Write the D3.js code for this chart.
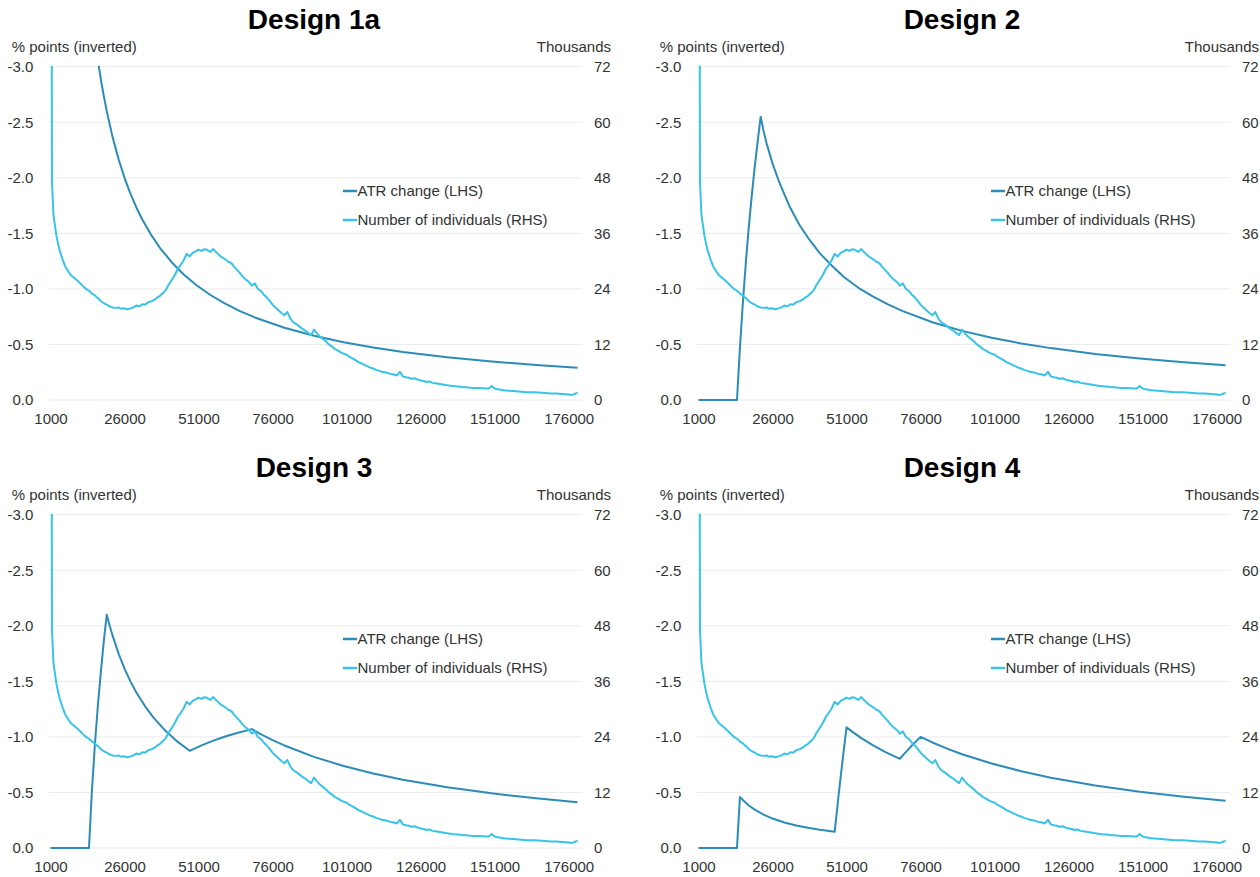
<!DOCTYPE html>
<html><head><meta charset="utf-8">
<script src="https://cdn.jsdelivr.net/npm/d3@7"></script>
<style>
body{margin:0;background:#fff}
text{font-family:"Liberation Sans",Arial,Helvetica,sans-serif}
</style>
</head><body>
<svg id="chart" width="1260" height="877"></svg>
<script>
// ---------- DATA ----------
const titles = ["Design 1a", "Design 2", "Design 3", "Design 4"];
const incomeTicks = [1000, 26000, 51000, 76000, 101000, 126000, 151000, 176000];
const lhsTicks = [0, -0.5, -1.0, -1.5, -2.0, -2.5, -3.0];
const rhsTicks = [0, 12, 24, 36, 48, 60, 72];
const legendLabels = ["ATR change (LHS)", "Number of individuals (RHS)"];

// Number of individuals (thousands) by income
const individuals = [
  [1000,250],[1500,47],[2000,40],[3000,35.5],[4000,32.5],[5000,30.5],[6000,28.8],[7000,27.8],[8000,26.9],[9000,26.4],
  [10000,25.8],[11000,25.2],[12000,24.6],[13000,24.0],[14000,23.6],[15000,23.0],[16000,22.6],[17000,22.0],[18000,21.4],[19000,20.9],
  [20000,20.6],[21000,20.2],[22000,20.0],[23000,19.9],[24000,20.0],[25000,19.7],[26000,19.8],[27000,19.6],[28000,19.8],[29000,20.0],
  [30000,20.4],[31000,20.2],[32000,20.7],[33000,20.6],[34000,21.1],[35000,21.3],[36000,21.6],[37000,22.1],[38000,22.5],[39000,23.1],
  [40000,23.8],[41000,25.0],[42000,26.0],[43000,27.0],[44000,28.3],[45000,29.2],[46000,30.2],[47000,31.6],[48000,31.0],[49000,31.8],
  [50000,32.1],[51000,32.5],[52000,32.2],[53000,32.6],[54000,32.4],[55000,32.0],[56000,32.6],[57000,31.9],[58000,31.3],[59000,30.8],
  [60000,30.4],[61000,29.9],[62000,29.6],[63000,28.8],[64000,28.1],[65000,27.4],[66000,26.6],[67000,26.0],[68000,25.5],[69000,24.7],
  [70000,25.2],[71000,24.0],[72000,23.6],[73000,22.8],[74000,22.2],[75000,21.4],[76000,20.6],[77000,20.0],[78000,19.4],[79000,18.8],
  [80000,18.3],[81000,19.0],[82000,17.6],[83000,16.8],[84000,16.4],[85000,15.9],[86000,15.4],[87000,15.0],[88000,14.5],[89000,14.0],
  [90000,15.2],[91000,14.4],[92000,13.7],[93000,13.2],[94000,12.7],[95000,12.0],[96000,11.6],[97000,11.0],[98000,10.7],[99000,10.3],
  [100000,10.0],[101000,9.8],[102000,9.3],[103000,9.0],[104000,8.6],[105000,8.2],[106000,7.9],[107000,7.6],[108000,7.3],[109000,7.0],
  [110000,6.8],[111000,6.5],[112000,6.3],[113000,6.1],[114000,6.0],[115000,5.8],[116000,5.6],[117000,5.5],[118000,5.3],[119000,6.1],
  [120000,5.1],[121000,4.9],[122000,4.8],[123000,4.6],[124000,4.7],[125000,4.4],[126000,4.2],[127000,4.1],[128000,3.9],[129000,4.0],
  [130000,3.7],[131000,3.6],[132000,3.5],[133000,3.4],[134000,3.3],[135000,3.2],[136000,3.1],[137000,3.0],[138000,2.9],[139000,2.9],
  [140000,2.8],[142000,2.7],[144000,2.6],[146000,2.6],[148000,2.5],[149000,2.5],[150000,3.0],[151000,2.5],[152000,2.3],[154000,2.1],
  [156000,2.0],[158000,1.9],[160000,1.8],[162000,1.7],[164000,1.7],[166000,1.6],[168000,1.5],[170000,1.4],[172000,1.4],[174000,1.3],
  [176000,1.2],[177000,1.1],[178000,1.3],[179000,1.6]
];

// ATR change (% points) by income, one series per design
const atrDesign1a = [
  [14000,-3.714],[15000,-3.467],[16000,-3.25],[17000,-3.059],[18000,-2.889],[19000,-2.737],[20000,-2.6],[22000,-2.364],
  [24000,-2.167],[26000,-2.0],[28000,-1.857],[30000,-1.733],[32000,-1.625],[35000,-1.486],[38000,-1.368],[42000,-1.238],
  [46000,-1.13],[50000,-1.04],[55000,-0.945],[60000,-0.867],[65000,-0.8],[70000,-0.743],[80000,-0.65],[90000,-0.578],
  [100000,-0.52],[110000,-0.473],[120000,-0.433],[135000,-0.385],[150000,-0.347],[165000,-0.315],[179000,-0.29]
];
const atrDesign2 = [
  [1000,0],[14000,0],[15000,-0.47],[16000,-0.88],[17000,-1.24],[18000,-1.56],[19000,-1.84],[20000,-2.1],[21000,-2.33],
  [22000,-2.55],[23000,-2.42],[24000,-2.31],[26000,-2.13],[28000,-1.98],[30000,-1.85],[32000,-1.73],[35000,-1.58],
  [38000,-1.46],[42000,-1.32],[46000,-1.21],[50000,-1.11],[55000,-1.01],[60000,-0.93],[65000,-0.86],[70000,-0.8],
  [80000,-0.7],[90000,-0.622],[100000,-0.56],[110000,-0.509],[120000,-0.467],[135000,-0.415],[150000,-0.373],
  [165000,-0.339],[179000,-0.313]
];
const atrDesign3 = [
  [1000,0],[14000,0],[15000,-0.52],[16000,-0.93],[17000,-1.28],[18000,-1.58],[19000,-1.86],[20000,-2.1],[21000,-2.0],
  [22000,-1.909],[24000,-1.75],[26000,-1.615],[28000,-1.5],[30000,-1.4],[33000,-1.273],[36000,-1.167],[40000,-1.05],
  [44000,-0.955],[48000,-0.875],[52000,-0.924],[56000,-0.966],[60000,-1.003],[64000,-1.035],[69000,-1.07],[72000,-1.025],
  [76000,-0.971],[80000,-0.923],[90000,-0.82],[100000,-0.738],[110000,-0.671],[120000,-0.615],[135000,-0.547],
  [150000,-0.492],[165000,-0.447],[179000,-0.412]
];
const atrDesign4 = [
  [1000,0],[14000,0],[15000,-0.46],[16000,-0.431],[18000,-0.383],[20000,-0.345],[23000,-0.3],[26000,-0.265],[30000,-0.23],
  [34000,-0.203],[38000,-0.182],[42000,-0.164],[47000,-0.147],[48000,-0.396],[49000,-0.636],[50000,-0.866],[51000,-1.086],
  [53000,-1.045],[56000,-0.989],[60000,-0.923],[64000,-0.866],[69000,-0.803],[71000,-0.863],[73000,-0.92],[76000,-1.0],
  [80000,-0.95],[85000,-0.894],[90000,-0.844],[100000,-0.76],[110000,-0.691],[120000,-0.633],[135000,-0.563],
  [150000,-0.507],[165000,-0.461],[179000,-0.425]
];
const atrSeries = [atrDesign1a, atrDesign2, atrDesign3, atrDesign4];

// ---------- LAYOUT / STYLE ----------
const darkBlue = "#2b8cb8";
const lightBlue = "#36c4ea";
const gridColor = "#ebebeb";
const textColor = "#333333";
const PW = 533, PH = 333.3;
const lefts = [49, 697], tops = [66.7, 514.7];

const svg = d3.select("#chart");
const x = d3.scaleLinear().domain([500, 180500]).range([0, PW]);
const yL = d3.scaleLinear().domain([0, -3]).range([PH, 0]);
const yR = d3.scaleLinear().domain([0, 72]).range([PH, 0]);

titles.forEach((title, i) => {
  const gx = lefts[i % 2], gy = tops[Math.floor(i / 2)];
  const g = svg.append("g").attr("transform", `translate(${gx},${gy})`);

  g.append("clipPath").attr("id", "clip" + i)
    .append("rect").attr("x", 0).attr("y", -1).attr("width", PW).attr("height", PH + 2);

  // gridlines
  g.append("g").selectAll("line").data(lhsTicks).join("line")
    .attr("x1", 0).attr("x2", PW)
    .attr("y1", d => yL(d)).attr("y2", d => yL(d))
    .attr("stroke", gridColor).attr("stroke-width", 1);

  // left axis
  const leftAxis = d3.axisLeft(yL).tickValues(lhsTicks).tickSize(0).tickPadding(15.7)
    .tickFormat(d => d.toFixed(1));
  const la = g.append("g").call(leftAxis);
  la.select(".domain").remove();
  la.selectAll("text").attr("font-size", 15).attr("fill", textColor)
    .attr("font-family", '"Liberation Sans",Arial,sans-serif');

  // right axis
  const rightAxis = d3.axisRight(yR).tickValues(rhsTicks).tickSize(0).tickPadding(12)
    .tickFormat(d3.format("d"));
  const ra = g.append("g").attr("transform", `translate(${PW},0)`).call(rightAxis);
  ra.select(".domain").remove();
  ra.selectAll("text").attr("font-size", 15).attr("fill", textColor)
    .attr("font-family", '"Liberation Sans",Arial,sans-serif');

  // bottom axis
  const bottomAxis = d3.axisBottom(x).tickValues(incomeTicks).tickSize(0).tickPadding(13)
    .tickFormat(d3.format("d"));
  const ba = g.append("g").attr("transform", `translate(0,${PH})`).call(bottomAxis);
  ba.select(".domain").remove();
  ba.selectAll("text").attr("font-size", 15).attr("fill", textColor)
    .attr("font-family", '"Liberation Sans",Arial,sans-serif');

  // titles & axis captions
  g.append("text").attr("x", PW / 2 - 1.5).attr("y", -38)
    .attr("text-anchor", "middle").attr("font-size", 28).attr("font-weight", "bold")
    .attr("fill", "#000").text(title);
  g.append("text").attr("x", -37.3).attr("y", -14.5)
    .attr("font-size", 15).attr("fill", textColor).text("% points (inverted)");
  g.append("text").attr("x", PW + 29).attr("y", -14.5).attr("text-anchor", "end")
    .attr("font-size", 15).attr("fill", textColor).text("Thousands");

  // lines
  const plot = g.append("g").attr("clip-path", `url(#clip${i})`);
  const lineL = d3.line().x(d => x(d[0])).y(d => yL(d[1]));
  const lineR = d3.line().x(d => x(d[0])).y(d => yR(d[1]));
  plot.append("path").datum(atrSeries[i]).attr("d", lineL)
    .attr("fill", "none").attr("stroke", darkBlue).attr("stroke-width", 2)
    .attr("stroke-linejoin", "round");
  plot.append("path").datum(individuals).attr("d", lineR)
    .attr("fill", "none").attr("stroke", lightBlue).attr("stroke-width", 2)
    .attr("stroke-linejoin", "round");

  // legend
  const legendColors = [darkBlue, lightBlue];
  const lg = g.append("g").attr("transform", "translate(294,124.3)");
  legendLabels.forEach((lab, k) => {
    lg.append("line").attr("x1", 0).attr("x2", 14).attr("y1", k * 29).attr("y2", k * 29)
      .attr("stroke", legendColors[k]).attr("stroke-width", 2.5);
    lg.append("text").attr("x", 14.5).attr("y", k * 29).attr("dy", "0.35em")
      .attr("font-size", 15).attr("fill", textColor).text(lab);
  });
});
</script>
</body></html>
